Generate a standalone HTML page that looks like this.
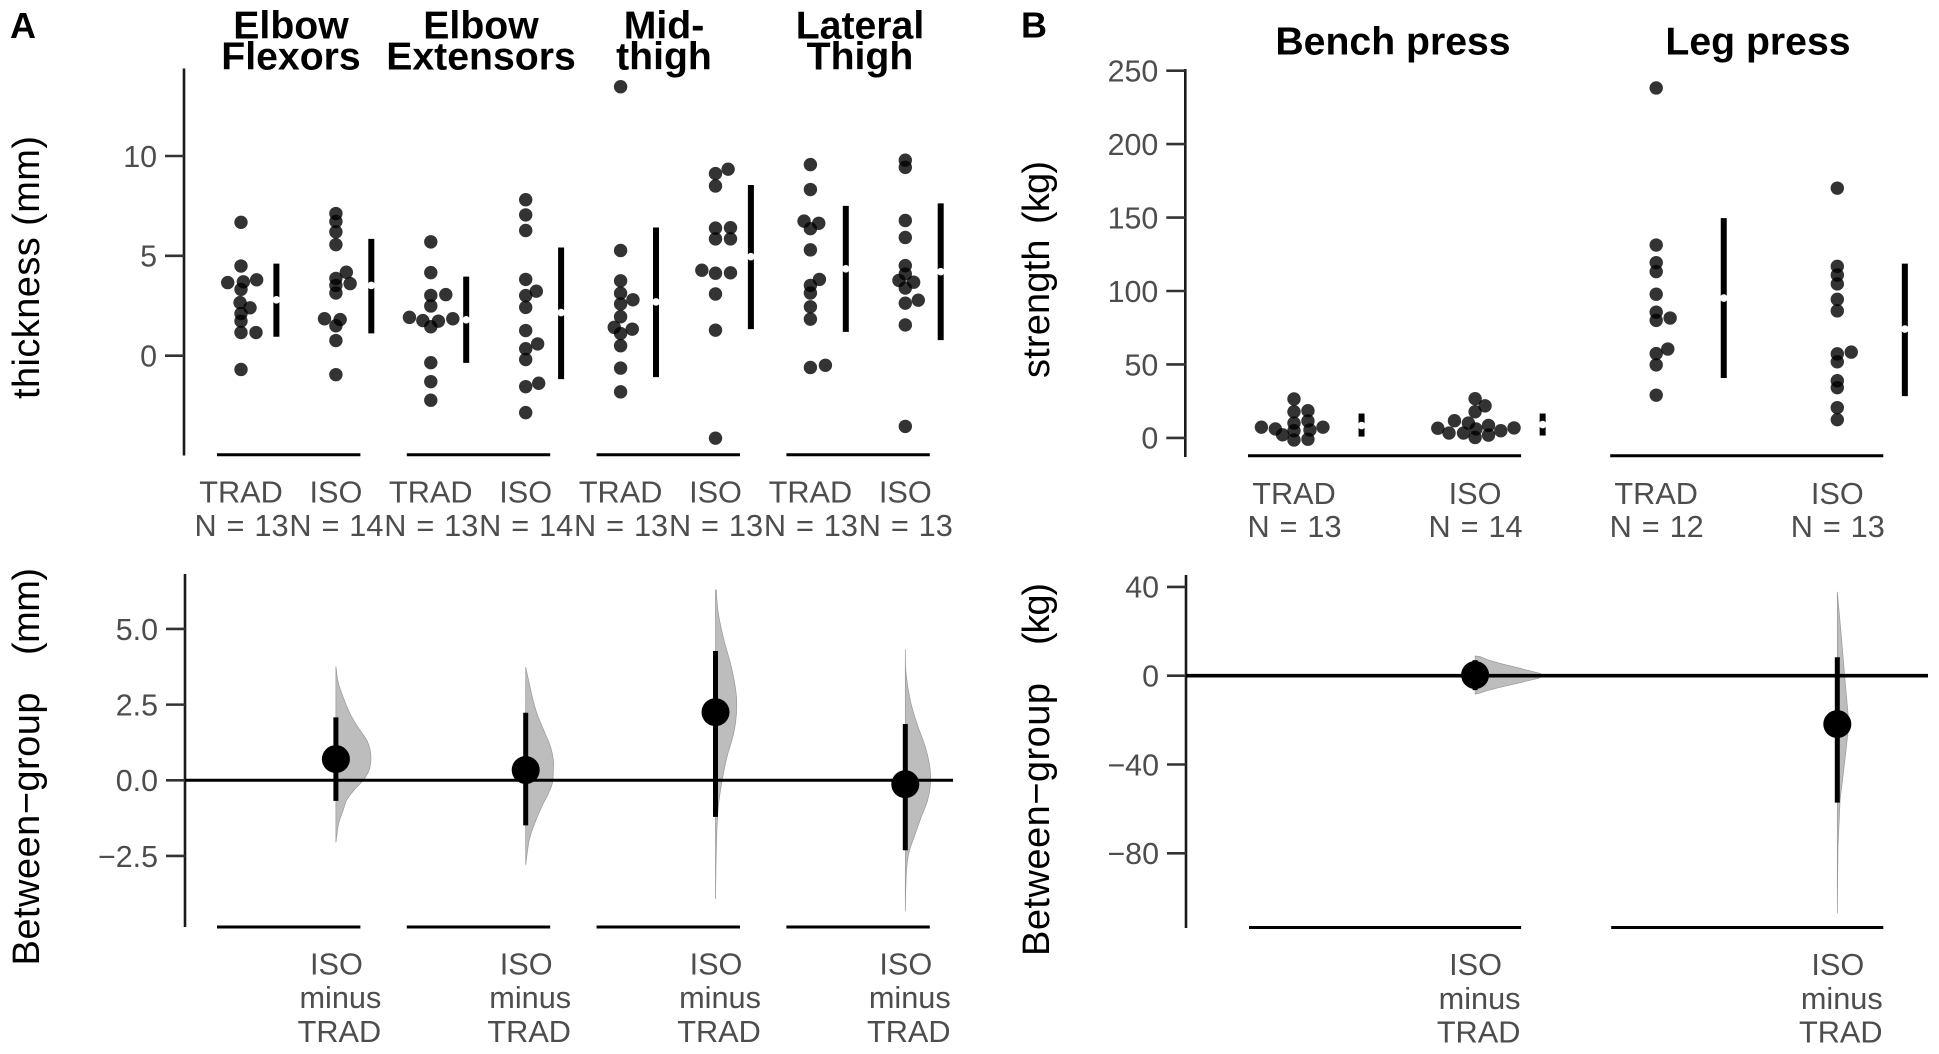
<!DOCTYPE html>
<html lang="en">
<head>
<meta charset="utf-8">
<title>Thickness and strength estimation plots</title>
<style>
html,body{margin:0;padding:0;background:#fff}
svg{display:block;font-family:"Liberation Sans",Arial,sans-serif}
.title{font-weight:700;font-size:39.2px;fill:#000;text-anchor:middle}
.letter{font-weight:700;font-size:36px;fill:#000}
.ytitle{font-size:38px;fill:#000}
.tick{font-size:30.4px;fill:#4d4d4d;text-anchor:end}
.cat{font-size:30.7px;fill:#4d4d4d;text-anchor:middle}
.count{word-spacing:1.4px}
</style>
</head>
<body>
<svg id="figure" xmlns="http://www.w3.org/2000/svg" width="1939" height="1054" viewBox="0 0 1939 1054">
<rect width="1939" height="1054" fill="#fff"/>
<text class="letter" x="10" y="38">A</text>
<text class="letter" x="1021" y="37.5">B</text>

<text class="title" x="291" y="38.6">Elbow</text>
<text class="title" x="291" y="69.6">Flexors</text>
<text class="title" x="481" y="38.6">Elbow</text>
<text class="title" x="481" y="69.6">Extensors</text>
<text class="title" x="664" y="38.6">Mid-</text>
<text class="title" x="664" y="69.6">thigh</text>
<text class="title" x="860" y="38.6">Lateral</text>
<text class="title" x="860" y="69.6">Thigh</text>
<text class="title" x="1393" y="54.4">Bench press</text>
<text class="title" x="1758" y="54.4">Leg press</text>

<text class="ytitle" transform="translate(39,399) rotate(-90)" textLength="263">thickness (mm)</text>
<text class="ytitle" transform="translate(1049,378) rotate(-90)" textLength="138.5">strength</text>
<text class="ytitle" transform="translate(1049,224) rotate(-90)" textLength="63">(kg)</text>
<text class="ytitle" transform="translate(39,965.5) rotate(-90)" textLength="273">Between−group</text>
<text class="ytitle" transform="translate(39,655) rotate(-90)" textLength="87">(mm)</text>
<text class="ytitle" transform="translate(1049,956) rotate(-90)" textLength="273">Between−group</text>
<text class="ytitle" transform="translate(1049,645) rotate(-90)" textLength="62">(kg)</text>
</svg>

<script>
// ---------- Panel A, upper: muscle thickness change (mm) ----------
const thicknessGroups = ['TRAD', 'ISO', 'TRAD', 'ISO', 'TRAD', 'ISO', 'TRAD', 'ISO'];
const thicknessN = [13, 14, 13, 14, 13, 13, 13, 13];
const thicknessTicks = [10, 5, 0];
const thicknessValues = [
  [6.68, 4.49, 3.66, 3.70, 3.80, 3.32, 2.66, 2.40, 2.11, 1.73, 1.16, 1.16, -0.69],
  [7.12, 6.72, 6.20, 5.56, 4.18, 3.87, 3.61, 3.52, 3.14, 1.85, 1.81, 1.50, 0.76, -0.95],
  [5.70, 4.16, 3.02, 3.06, 2.49, 1.92, 1.76, 1.73, 1.85, 1.45, -0.35, -1.30, -2.23],
  [7.81, 7.05, 6.27, 3.82, 3.23, 3.01, 2.42, 1.26, 0.59, 0.35, -0.19, -1.38, -1.55, -2.85],
  [13.47, 5.27, 3.75, 3.13, 2.59, 2.80, 1.95, 1.42, 1.33, 1.11, 0.50, -0.62, -1.81],
  [9.34, 9.12, 8.50, 6.39, 6.41, 5.85, 5.85, 4.28, 4.13, 4.15, 3.09, 1.28, -4.13],
  [9.57, 8.32, 6.74, 6.63, 6.36, 5.30, 3.82, 3.52, 3.14, 2.45, 1.83, -0.48, -0.59],
  [9.79, 9.43, 6.77, 5.92, 4.51, 4.09, 3.77, 3.68, 3.39, 2.78, 2.63, 1.54, -3.54]
];
// horizontal swarm jitter, in category-axis units
const thicknessJitter = [
  [0, 0, -0.14, 0.025, 0.165, 0, -0.01, 0.095, 0, 0, 0, 0.158, 0],
  [0, 0, 0, 0, 0.11, 0, 0.15, 0, 0, -0.12, 0.045, 0, 0, 0],
  [0, 0, 0, 0.158, 0, -0.225, -0.084, 0.08, 0.232, 0, 0, 0, 0],
  [0, 0, 0, 0, 0.112, 0, 0, 0, 0.126, 0, 0, 0.137, 0, 0],
  [0, 0, 0, 0, 0, 0.13, 0, -0.067, 0.123, 0, 0, 0, 0],
  [0.133, 0, 0, 0, 0.158, 0, 0.158, -0.144, 0, 0.158, 0, 0, 0],
  [0, 0, -0.067, 0.088, 0, 0, 0.095, 0, 0, 0, 0, 0.158, 0],
  [0, 0, 0, 0, 0, 0, -0.067, 0.088, 0, 0.137, 0, 0, 0]
];
const thicknessMean = [2.80, 3.52, 1.80, 2.16, 2.69, 4.96, 4.35, 4.21];
const thicknessLow = [0.95, 1.12, -0.36, -1.17, -1.07, 1.33, 1.19, 0.78];
const thicknessHigh = [4.61, 5.85, 3.96, 5.42, 6.42, 8.55, 7.50, 7.63];

// ---------- Panel A, lower: between-group difference (mm) ----------
const diffMmLabels = ['ISO', 'minus', 'TRAD'];
const diffMmTicks = [5.0, 2.5, 0.0, -2.5];
const diffMmTickLabels = ['5.0', '2.5', '0.0', '−2.5'];
const diffMmCategory = [1, 3, 5, 7];
const diffMmMean = [0.70, 0.34, 2.25, -0.13];
const diffMmLow = [-0.68, -1.49, -1.21, -2.31];
const diffMmHigh = [2.08, 2.23, 4.27, 1.86];
const diffMmViolinValues = [
  [3.76, 3.21, 2.65, 2.21, 1.77, 1.33, 1.0, 0.70, 0.34, 0, -0.32, -0.65, -0.98, -1.42, -2.05],
  [3.74, 3.21, 2.65, 2.11, 1.56, 1.11, 0.67, 0.34, -0.10, -0.43, -0.87, -1.42, -1.98, -2.80],
  [6.29, 5.52, 4.64, 3.76, 2.87, 2.21, 1.55, 0.78, 0, -0.87, -1.97, -3.92],
  [4.33, 3.54, 2.65, 1.88, 1.11, 0.45, -0.10, -0.65, -1.20, -1.75, -2.41, -3.07, -4.32]
];
const diffMmViolinDensity = [
  [0, 0.07, 0.24, 0.40, 0.62, 0.88, 0.98, 1.0, 0.95, 0.78, 0.52, 0.31, 0.21, 0.08, 0],
  [0, 0.10, 0.21, 0.35, 0.55, 0.71, 0.79, 0.79, 0.76, 0.65, 0.46, 0.26, 0.10, 0],
  [0.02, 0.08, 0.24, 0.45, 0.59, 0.60, 0.52, 0.33, 0.19, 0.08, 0.03, 0],
  [0, 0.02, 0.14, 0.33, 0.57, 0.70, 0.72, 0.64, 0.46, 0.29, 0.10, 0.03, 0]
];

// ---------- Panel B, upper: strength change (kg) ----------
const strengthGroups = ['TRAD', 'ISO', 'TRAD', 'ISO'];
const strengthN = [13, 14, 12, 13];
const strengthTicks = [250, 200, 150, 100, 50, 0];
const strengthValues = [
  [26.5, 17.8, 18.5, 10.1, 11.5, 4.9, 5.4, 7.3, 6.1, 2.1, 7.3, -1.4, -0.9],
  [26.7, 21.8, 17.8, 11.7, 10.1, 8.5, 6.1, 6.6, 6.8, 4.9, 3.3, 3.3, 1.9, 0.3],
  [238.2, 131.3, 119.3, 113.2, 97.8, 85.6, 80, 81.6, 57.4, 60.5, 49.7, 29.1],
  [170, 116.8, 110.9, 104.8, 94.3, 86.5, 57.2, 51.8, 58.4, 38.9, 34.2, 20.6, 12.4]
];
// horizontal swarm jitter, in category-axis units
const strengthJitter = [
  [0, 0, 0.077, 0, 0.077, 0, 0.088, -0.18, -0.103, -0.063, 0.16, 0, 0.077],
  [0, 0.055, 0, -0.114, -0.037, 0.074, 0.005, -0.206, 0.215, 0.142, -0.144, -0.064, 0.074, 0],
  [0, 0, 0, 0, 0, 0, 0, 0.077, 0, 0.064, 0, 0],
  [0, 0, 0, 0, 0, 0, 0, 0, 0.077, 0, 0, 0, 0]
];
const strengthMean = [8.4, 9.1, 95.2, 74.1];
const strengthLow = [0.9, 1.6, 40.8, 28.4];
const strengthHigh = [16.6, 16.6, 149.6, 118.6];

// ---------- Panel B, lower: between-group difference (kg) ----------
const diffKgTicks = [40, 0, -40, -80];
const diffKgTickLabels = ['40', '0', '−40', '−80'];
const diffKgCategory = [1, 3];
const diffKgMean = [0.3, -21.8];
const diffKgLow = [-6.5, -57.2];
const diffKgHigh = [7.0, 8.3];
const diffKgViolinValues = [
  [8.9, 8.6, 7.06, 5.56, 3.3, 1.05, 0, -1.2, -3.45, -5.4, -6.8, -8.0, -8.3],
  [37.8, 20.5, 0, -21.5, -35, -56, -77, -107]
];
const diffKgViolinDensity = [
  [0, 0.14, 0.38, 0.71, 1.29, 1.86, 1.90, 1.81, 1.19, 0.67, 0.33, 0.11, 0],
  [0, 0.10, 0.21, 0.33, 0.24, 0.08, 0.02, 0]
];

// ---------- Axis functions ----------
const xThick = c => 241 + 94.9 * c;
const yThick = v => 355.7 - 19.97 * v;
const yDiffMm = v => 780.3 - 30.27 * v;
const xStrength = c => 1294 + 181.1 * c;
const yStrength = v => 437.9 - 1.469 * v;
const yDiffKg = v => 675.7 - 2.22 * v;
const violinWidth = d => d * 35;
const ciOffset = 0.373;

const svgNS = 'http://www.w3.org/2000/svg';
const fig = document.getElementById('figure');
function make(tag, attrs, text) {
  const node = document.createElementNS(svgNS, tag);
  for (const k in attrs) node.setAttribute(k, attrs[k]);
  if (text !== undefined) node.textContent = text;
  fig.appendChild(node);
  return node;
}
function line(x1, y1, x2, y2, color, width) {
  return make('line', {x1: x1, y1: y1, x2: x2, y2: y2, stroke: color, 'stroke-width': width});
}

function drawAxis(x, yTop, yBottom, ticks, labels, yScale) {
  const axis = line(x, yTop, x, yBottom, '#1a1a1a', 2.6);
  
  
  ticks.forEach((t, i) => {
    const y = yScale(t);
    const mark = line(x - 19, y, x, y, '#333', 2.6);
    
    
    const label = make('text', {class: 'tick', x: x - 27, y: y + 10.8}, labels[i]);
    
    
  });
}

function drawBase(x1, x2, y) {
  const base = line(x1, y, x2, y, '#000', 3);
  
  
}

function drawSwarms(values, jitter, xScale, yScale) {
  values.forEach((series, c) => {
    series.forEach((v, i) => {
      const dot = make('circle', {cx: xScale(c + jitter[c][i]), cy: yScale(v), r: 6.7, fill: '#000', 'fill-opacity': 0.8});
      
      
    });
  });
}

function drawRanges(low, mean, high, xScale, yScale) {
  mean.forEach((m, c) => {
    const x = xScale(c + ciOffset);
    const bar = line(x, yScale(high[c]), x, yScale(low[c]), '#000', 6);
    
    
    const gap = make('circle', {cx: x, cy: yScale(m), r: 3.8, fill: '#fff'});
    
    
  });
}

function drawCategoryLabels(groups, counts, xScale, yGroup, yCount) {
  groups.forEach((g, c) => {
    const name = make('text', {class: 'cat', x: xScale(c), y: yGroup}, g);
    
    
    const count = make('text', {class: 'cat count', x: xScale(c) + 0.5, y: yCount}, 'N = ' + counts[c]);
    
    
  });
}

function violinPath(x0, vals, dens, yScale, smooth) {
  const pts = vals.map((v, i) => [x0 + violinWidth(dens[i]), yScale(v)]);
  let d = 'M' + x0 + ' ' + pts[0][1] + 'L' + pts[0][0] + ' ' + pts[0][1];
  for (let i = 0; i < pts.length - 1; i++) {
    if (!smooth) { d += 'L' + pts[i + 1][0] + ' ' + pts[i + 1][1]; continue; }
    const p0 = pts[Math.max(i - 1, 0)], p1 = pts[i], p2 = pts[i + 1], p3 = pts[Math.min(i + 2, pts.length - 1)];
    d += 'C' + (p1[0] + (p2[0] - p0[0]) / 6) + ' ' + (p1[1] + (p2[1] - p0[1]) / 6) + ' ' +
         (p2[0] - (p3[0] - p1[0]) / 6) + ' ' + (p2[1] - (p3[1] - p1[1]) / 6) + ' ' + p2[0] + ' ' + p2[1];
  }
  const last = pts[pts.length - 1];
  return d + 'L' + x0 + ' ' + last[1] + 'Z';
}

function drawViolins(cats, vals, dens, xScale, yScale, smooth) {
  cats.forEach((c, i) => {
    const shape = make('path', {d: violinPath(xScale(c), vals[i], dens[i], yScale, smooth), fill: '#bdbdbd', stroke: '#999', 'stroke-width': 0.7});
    
    
  });
}

function drawEffects(cats, low, mean, high, xScale, yScale) {
  cats.forEach((c, i) => {
    const x = xScale(c);
    const ci = line(x, yScale(high[i]), x, yScale(low[i]), '#000', 5);
    
    
    const dot = make('circle', {cx: x, cy: yScale(mean[i]), r: 14, fill: '#000'});
    
    
  });
}

function drawDiffLabels(cats, xScale, y0, y1, y2) {
  cats.forEach(c => {
    const x = xScale(c);
    const a = make('text', {class: 'cat', x: x + 0.5, y: y0}, diffMmLabels[0]);
    
    
    const b = make('text', {class: 'cat', x: x + 4.5, y: y1}, diffMmLabels[1]);
    
    
    const t = make('text', {class: 'cat', x: x + 3.5, y: y2}, diffMmLabels[2]);
    
    
  });
}

// ---------- Panel A upper ----------
drawAxis(184, 68.5, 455.5, thicknessTicks, thicknessTicks.map(String), yThick);
[0, 2, 4, 6].forEach(c => drawBase(xThick(c) - 24, xThick(c + 1) + 24.5, 454.7));
drawSwarms(thicknessValues, thicknessJitter, xThick, yThick);
drawRanges(thicknessLow, thicknessMean, thicknessHigh, xThick, yThick);
drawCategoryLabels(thicknessGroups, thicknessN, xThick, 502.7, 536.2);

// ---------- Panel A lower ----------
drawAxis(185, 574, 927, diffMmTicks, diffMmTickLabels, yDiffMm);
[0, 2, 4, 6].forEach(c => drawBase(xThick(c) - 24, xThick(c + 1) + 24.5, 927));
drawViolins(diffMmCategory, diffMmViolinValues, diffMmViolinDensity, xThick, yDiffMm, true);
const zeroMm = line(185, yDiffMm(0), 953, yDiffMm(0), '#000', 3);


drawEffects(diffMmCategory, diffMmLow, diffMmMean, diffMmHigh, xThick, yDiffMm);
drawDiffLabels(diffMmCategory, xThick, 974.5, 1008, 1042);

// ---------- Panel B upper ----------
drawAxis(1185.3, 69, 457, strengthTicks, strengthTicks.map(String), yStrength);
[0, 2].forEach(c => drawBase(xStrength(c) - 46, xStrength(c + 1) + 46, 455.8));
drawSwarms(strengthValues, strengthJitter, xStrength, yStrength);
drawRanges(strengthLow, strengthMean, strengthHigh, xStrength, yStrength);
drawCategoryLabels(strengthGroups, strengthN, xStrength, 504, 537);

// ---------- Panel B lower ----------
drawAxis(1186, 575, 928, diffKgTicks, diffKgTickLabels, yDiffKg);
[0, 2].forEach(c => drawBase(xStrength(c) - 45, xStrength(c + 1) + 46, 927.5));
drawViolins(diffKgCategory, diffKgViolinValues, diffKgViolinDensity, xStrength, yDiffKg, false);
const zeroKg = line(1186, yDiffKg(0), 1928, yDiffKg(0), '#000', 3.6);


drawEffects(diffKgCategory, diffKgLow, diffKgMean, diffKgHigh, xStrength, yDiffKg);
drawDiffLabels(diffKgCategory, xStrength, 975, 1009, 1042.5);
</script>
</body>
</html>
